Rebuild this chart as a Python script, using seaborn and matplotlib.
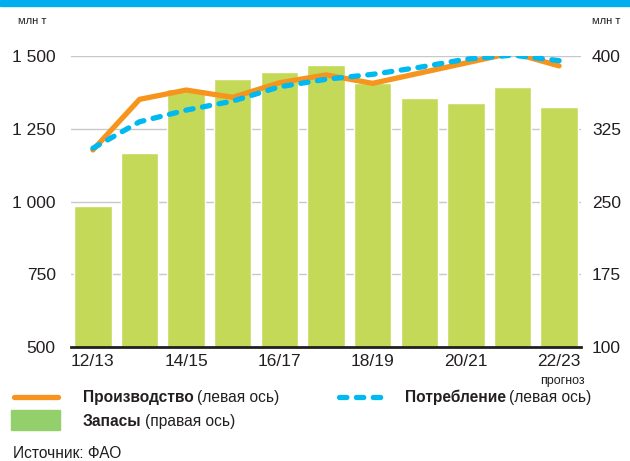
import numpy as np
import pandas as pd
import matplotlib
matplotlib.use('Agg')
import matplotlib.pyplot as plt
from matplotlib.lines import Line2D
from matplotlib.patches import Rectangle
from matplotlib import font_manager
import seaborn as sns

# Data
seasons = ['12/13', '13/14', '14/15', '15/16', '16/17', '17/18',
           '18/19', '19/20', '20/21', '21/22', '22/23']
production = [1177, 1351, 1383, 1358, 1408, 1435, 1406, 1441, 1476, 1511, 1466]
consumption = [1183, 1274, 1314, 1345, 1394, 1420, 1437, 1461, 1489, 1503, 1484]
stocks = [245, 300, 366, 376, 384, 391, 372, 357, 352, 368, 347]

left_ticks = [500, 750, 1000, 1250, 1500]
left_labels = ['500', '750', '1 000', '1 250', '1 500']
right_ticks = [100, 175, 250, 325, 400]
shown_seasons = ['12/13', '14/15', '16/17', '18/19', '20/21', '22/23']

ORANGE = '#f7941d'
BLUE = '#00b9f1'
BAR_GREEN = '#c5d959'
LEG_GREEN = '#93cf6a'
TOP_BLUE = '#00aeef'

sns.set_style('white')
plt.rcParams['font.family'] = ['Liberation Sans', 'DejaVu Sans']
names = {f.name for f in font_manager.fontManager.ttflist}
narrow = 'Liberation Sans Narrow' if 'Liberation Sans Narrow' in names else 'Liberation Sans'
leg_size = 12.5 if narrow == 'Liberation Sans Narrow' else 11.2

df = pd.DataFrame({'pos': np.arange(len(seasons)), 'season': seasons,
                   'production': production, 'consumption': consumption,
                   'stocks': stocks})

fig = plt.figure(figsize=(6.3, 4.61), dpi=100)
ax = fig.add_axes([71 / 630, 1 - 347 / 461, (581 - 71) / 630, 291 / 461])
ax2 = ax.twinx()

# Stocks bars on the right axis
sns.barplot(data=df, x='pos', y='stocks', ax=ax2, color=BAR_GREEN,
            saturation=1, width=0.8, native_scale=True)
ax2.set_ylim(100, 400)
ax2.set_yticks(right_ticks)
ax2.grid(axis='y', color='#c8c8c8', linewidth=1)
ax2.grid(axis='x', visible=False)
ax2.set_axisbelow(True)
ax2.set_ylabel('')

# Lines on the left axis, drawn above the bars
sns.lineplot(data=df, x='pos', y='production', ax=ax, color=ORANGE,
             linewidth=3.8, solid_capstyle='round', solid_joinstyle='miter', sort=False)
sns.lineplot(data=df, x='pos', y='consumption', ax=ax, color=BLUE,
             linewidth=3.8, linestyle=(0, (1.4, 1.8)), dash_capstyle='round', sort=False)
ax.set_zorder(ax2.get_zorder() + 1)
ax.patch.set_visible(False)
ax.set_ylim(500, 1500)
ax.set_yticks(left_ticks)
ax.set_yticklabels(left_labels)
ax.set_xlim(-0.47, 10.47)
ax.set_xticks([seasons.index(s) for s in shown_seasons])
ax.set_xticklabels(shown_seasons)
ax.set_xlabel('')
ax.set_ylabel('')
ax.grid(False)

for a in (ax, ax2):
    for s in a.spines.values():
        s.set_visible(False)
    a.tick_params(length=0, labelsize=12.5, colors='#231f20')
ax.spines['bottom'].set_visible(True)
ax.spines['bottom'].set_color('#231f20')
ax.spines['bottom'].set_linewidth(2)
ax.tick_params(axis='y', pad=11)
ax.tick_params(axis='x', pad=5)
ax2.tick_params(axis='y', pad=8)

# Top band and unit labels
fig.patches.append(Rectangle((0, 1 - 6 / 461), 1, 6 / 461, transform=fig.transFigure,
                             color=TOP_BLUE, zorder=0))
fig.text(18 / 630, 1 - 21 / 461, 'млн т', fontsize=8, color='#231f20', va='center')
fig.text(592 / 630, 1 - 21 / 461, 'млн т', fontsize=8, color='#231f20', va='center')
fig.text(585 / 630, 1 - 381 / 461, 'прогноз', fontsize=9, color='#231f20',
         ha='right', va='center', family=narrow)

# Legend drawn by hand
fig.lines.append(Line2D([14 / 630, 58 / 630], [1 - 397 / 461] * 2, transform=fig.transFigure,
                        color=ORANGE, linewidth=3.8, solid_capstyle='round'))
fig.lines.append(Line2D([339 / 630, 388 / 630], [1 - 397 / 461] * 2, transform=fig.transFigure,
                        color=BLUE, linewidth=3.8, linestyle=(0, (1.4, 1.8)),
                        dash_capstyle='round'))
fig.patches.append(Rectangle((11 / 630, 1 - 430 / 461), 49 / 630, 20 / 461,
                             transform=fig.transFigure, color=LEG_GREEN))

def legend_entry(x, y, bold, rest):
    t = fig.text(x / 630, 1 - y / 461, bold, fontsize=leg_size, fontweight='bold',
                 family=narrow, color='#231f20', va='center')
    fig.canvas.draw()
    bb = t.get_window_extent()
    fig.text(bb.x1 / 630 + 3 / 630, 1 - y / 461, rest, fontsize=leg_size,
             family=narrow, color='#231f20', va='center')

legend_entry(83, 397, 'Производство', '(левая ось)')
legend_entry(405, 397, 'Потребление', '(левая ось)')
legend_entry(83, 421, 'Запасы', '(правая ось)')

fig.text(13 / 630, 1 - 453 / 461, 'Источник: ФАО', fontsize=11.2, family=narrow,
         color='#231f20', va='center')

fig.savefig('out.png', dpi=100)
